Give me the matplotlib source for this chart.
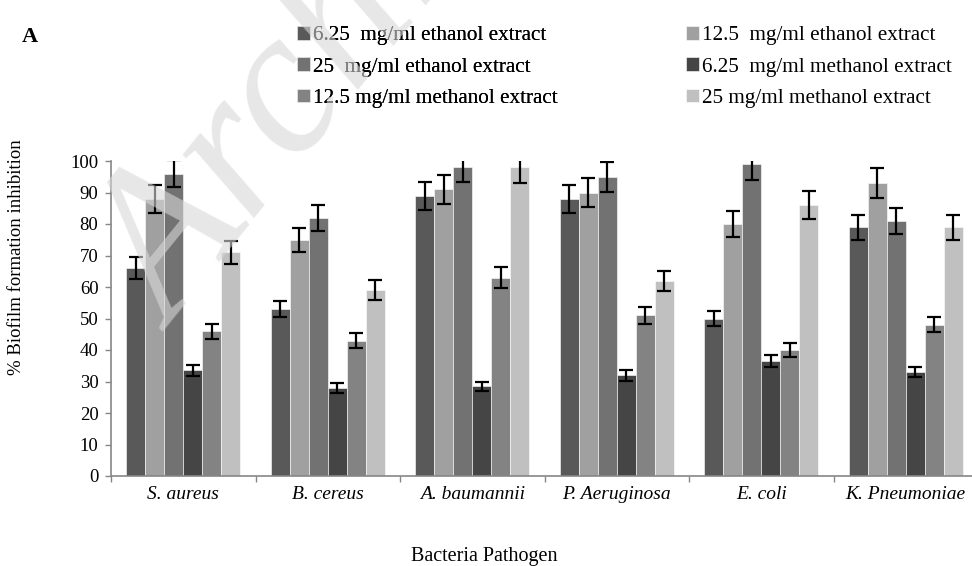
import matplotlib.pyplot as plt
import numpy as np

plt.rcParams['font.family'] = ['Liberation Serif', 'DejaVu Serif']

# Data
bacteria = ['S. aureus', 'B. cereus', 'A. baumannii', 'P. Aeruginosa', 'E. coli', 'K. Pneumoniae']
series = ['6.25  mg/ml ethanol extract', '12.5  mg/ml ethanol extract', '25  mg/ml ethanol extract',
          '6.25  mg/ml methanol extract', '12.5 mg/ml methanol extract', '25 mg/ml methanol extract']
eth_625 = [66, 53, 89, 88, 50, 79]
eth_125 = [88, 75, 91, 90, 80, 93]
eth_25 = [96, 82, 98, 95, 99, 81]
met_625 = [33.5, 28, 28.5, 32, 36.5, 33]
met_125 = [46, 43, 63, 51, 40, 48]
met_25 = [71, 59, 98, 62, 86, 79]
err_eth_625 = [3.4, 2.6, 4.4, 4.4, 2.5, 4.0]
err_eth_125 = [4.5, 3.8, 4.6, 4.5, 4.1, 4.8]
err_eth_25 = [4.4, 4.1, 4.7, 4.8, 4.9, 4.1]
err_met_625 = [1.7, 1.5, 1.5, 1.7, 1.9, 1.7]
err_met_125 = [2.4, 2.3, 3.3, 2.6, 2.1, 2.4]
err_met_25 = [3.6, 3.1, 4.9, 3.2, 4.4, 4.0]
colors = ['#595959', '#a0a0a0', '#727272', '#454545', '#838383', '#c0c0c0']

values = [eth_625, eth_125, eth_25, met_625, met_125, met_25]
errors = [err_eth_625, err_eth_125, err_eth_25, err_met_625, err_met_125, err_met_25]

fig = plt.figure(figsize=(9.72, 5.66), dpi=100)
ax = fig.add_axes([111/972, 1-476/566, 867/972, 315/566])

x = np.arange(len(bacteria)) + 0.5
w = 0.1315
bars = []
for i in range(6):
    pos = x + (i - 2.5) * w
    b = ax.bar(pos, values[i], w, color=colors[i], edgecolor='white', linewidth=0.4, label=series[i], zorder=2)
    ax.errorbar(pos, values[i], yerr=errors[i], fmt='none', ecolor='black', elinewidth=1.6,
                capsize=5, capthick=1.6, zorder=3)
    bars.append(b)

ax.set_xlim(0, 6)
ax.set_ylim(0, 100)
ax.set_yticks(np.arange(0, 101, 10))
ax.set_xticks(x)
ax.set_xticklabels(bacteria, fontstyle='italic', fontsize=14)
ax.set_xticks(np.arange(0, 7), minor=True)
ax.tick_params(axis='x', which='major', length=0, pad=7)
ax.tick_params(axis='x', which='minor', length=4, color='#868686', width=1)
ax.tick_params(axis='y', length=4, color='#868686', width=1, labelsize=13.5, pad=5)
for s in ['top', 'right']:
    ax.spines[s].set_visible(False)
for s in ['left', 'bottom']:
    ax.spines[s].set_color('#868686')
    ax.spines[s].set_linewidth(1.2)

fig.text(17/972, 1-257/566, '% Biofilm formation inhibition', rotation=90, ha='center', va='center', fontsize=13.5)
fig.text(484/972, 1-556/566, 'Bacteria Pathogen', ha='center', va='center', fontsize=14.5)
fig.text(30/972, 1-37/566, 'A', ha='center', va='center', fontsize=16, fontweight='bold')

leg_kw = dict(loc='upper left', frameon=False, fontsize=15.2, handlelength=0.62, handleheight=0.62,
              handletextpad=0.15, labelspacing=0.57, borderpad=0, borderaxespad=0)
leg1 = fig.legend([bars[i] for i in (0, 2, 4)], [series[i] for i in (0, 2, 4)],
                  bbox_to_anchor=(297/972, 1-26/566), **leg_kw)
fig.add_artist(leg1)
fig.legend([bars[i] for i in (1, 3, 5)], [series[i] for i in (1, 3, 5)],
           bbox_to_anchor=(686/972, 1-26/566), **leg_kw)

# watermark
fig.text(135/972, 1-300/566, 'Archive', fontsize=150, fontstyle='italic', color='#d8d8d8',
         alpha=0.6, rotation=51, ha='left', va='center', rotation_mode='anchor', zorder=10)

fig.savefig('out.png', dpi=100)
